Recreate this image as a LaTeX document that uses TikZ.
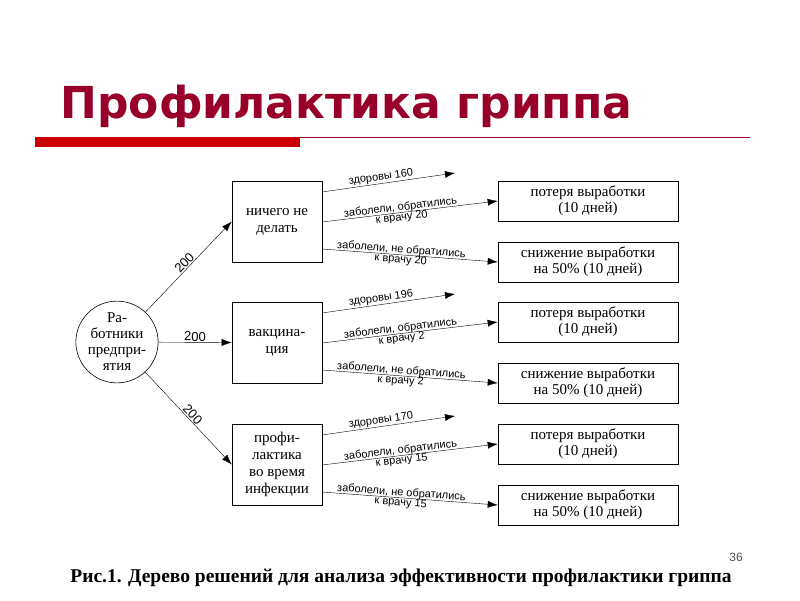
\documentclass[tikz,border=0pt]{standalone}
\usepackage{fontspec}
\setmainfont{Liberation Serif}
\newfontfamily\ssf{Liberation Sans}
\newfontfamily\titlef{DejaVu Sans}
\usetikzlibrary{arrows.meta,shapes.geometric}
\definecolor{tred}{HTML}{990029}
\begin{document}
\begin{tikzpicture}[x=1pt,y=-1pt,
 bx/.style={draw,semithick,minimum width=90pt,minimum height=81pt,align=center,font=\fontsize{15}{17}\selectfont,inner sep=0pt},
 rb/.style={draw,semithick,minimum width=180pt,minimum height=40pt,align=center,font=\fontsize{15}{16}\selectfont,inner sep=0pt},
 ar/.style={-{Latex[length=10pt,width=7pt]}},
 lb/.style={font=\ssf\fontsize{11}{10}\selectfont,align=center,inner sep=1pt,sloped}]
\useasboundingbox (0,0) rectangle (800,600);
\node[anchor=base west,text=tred,font=\titlef\bfseries\fontsize{44}{44}\selectfont] (t) at (57,118) {Профилактика гриппа};
\fill[red!80!black] (35,137) rectangle (300,147);
\draw[tred] (300,137) -- (750,137);
\node[ellipse,draw,semithick,minimum width=82pt,minimum height=80pt,inner sep=0pt,align=center,font=\fontsize{15}{16}\selectfont] (c) at (117,342) {Ра-\\ботники\\предпри-\\ятия};
\node[bx] (b1) at (277,221.5) {ничего не\\делать};
\node[bx] (b2) at (277,342.5) {вакцина-\\ция};
\node[bx] (b3) at (277,464.5) {профи-\\лактика\\во время\\инфекции};
\draw[ar] (c) -- node[lb,above] {\fontsize{13}{13}\selectfont 200} (b1.west);
\draw[ar] (c) -- node[lb,above] {\fontsize{13}{13}\selectfont 200} (b2.west);
\draw[ar] (c) -- node[lb,above] {\fontsize{13}{13}\selectfont 200} (b3.west);
\foreach \i/\d/\h/\n in {1/0/160/20,2/121/196/2,3/243/170/15}{
 \node[rb] (p\i) at (588,201+\d) {потеря выработки\\(10 дней)};
 \node[rb] (s\i) at (588,262+\d) {снижение выработки\\на 50\% (10 дней)};
 \coordinate (h\i) at (455,173+\d);
 \coordinate (o1\i) at (322,192+\d);
 \coordinate (o2\i) at (322,222+\d);
 \coordinate (o3\i) at (322,249+\d);
 \draw[ar] (o1\i) -- node[lb,above,pos=0.45] {здоровы \h} (h\i);
 \draw[ar] (o2\i) -- node[lb,pos=0.45] {заболели, обратились\\к врачу \n} (p\i.west);
 \draw[ar] (o3\i) -- node[lb,pos=0.45] {заболели, не обратились\\к врачу \n} (s\i.west);
}
\node[font=\ssf\fontsize{12}{12}\selectfont,text=black!70] (n) at (736,557) {36};
\node[font=\bfseries\fontsize{19.5}{20}\selectfont] (cap) at (401,578) {Рис.1. Дерево решений для анализа эффективности профилактики гриппа};
\end{tikzpicture}
\end{document}
